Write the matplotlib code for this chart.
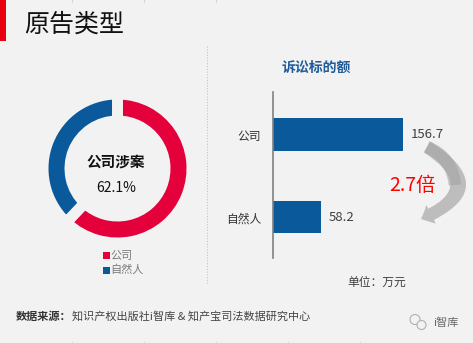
import matplotlib
matplotlib.use("Agg")
import matplotlib.pyplot as plt
from matplotlib.patches import Rectangle, FancyArrowPatch, Circle

plt.rcParams['font.family'] = ['Noto Sans CJK SC', 'DejaVu Sans']

W, H = 473, 343
BG = '#f2f2f2'
RED = '#e4003a'
BLUE = '#0a5a9b'

# ---- data ----
title = '原告类型'
share_labels = ['公司', '自然人']
share_values = [62.1, 37.9]
share_colors = [RED, BLUE]
donut_center_label = '公司涉案'
donut_center_value = '62.1%'
bar_title = '诉讼标的额'
bar_categories = ['自然人', '公司']
bar_values = [58.2, 156.7]
ratio_label = '2.7倍'
unit_label = '单位：万元'
source_head = '数据来源：'
source_body = '知识产权出版社i智库 & 知产宝司法数据研究中心'
brand = 'i智库'

fig = plt.figure(figsize=(W / 100, H / 100), dpi=100, facecolor=BG)


def px_axes(x, y, w, h, z=1):
    a = fig.add_axes([x / W, 1 - (y + h) / H, w / W, h / H], zorder=z)
    a.patch.set_alpha(0)
    return a


# overlay in pixel coords (top-left origin)
over = px_axes(0, 0, W, H, z=0)
over.set_xlim(0, W)
over.set_ylim(H, 0)
over.axis('off')

# header
over.add_patch(Rectangle((0, 0), 6, 40.7, color='#e8000f', lw=0))
over.text(24, 24.5, title, fontsize=18, va='center', ha='left', color='#111111')

# screenshot edge marks
for xm in [72, 144, 216]:
    over.plot([xm, xm], [0, 1.5], color='#d5d5d5', lw=0.8)
for xm in [72, 144, 216, 288, 360]:
    over.plot([xm, xm], [341.5, 343], color='#d5d5d5', lw=0.8)

# separator
over.plot([206.5, 206.5], [46, 283], color='#c4c4c4', lw=0.8, ls=(0, (1, 1.5)))

# ---- donut ----
axp = px_axes(117.5 - 85, 168.5 - 85, 170, 170, z=2)
axp.set_xlim(-85, 85)
axp.set_ylim(-85, 85)
axp.set_aspect('equal')
axp.axis('off')
axp.pie(share_values, colors=share_colors, startangle=90, counterclock=False,
        radius=74.5, wedgeprops=dict(width=27, edgecolor=BG, linewidth=7.9))
axp.set_xlim(-85, 85)
axp.set_ylim(-85, 85)
axp.text(-1.5, 6.5, donut_center_label, fontsize=10.5, fontweight='bold',
         ha='center', va='center', color='#111111')
axp.text(-1.5, -19, donut_center_value, fontsize=10, ha='center', va='center',
         color='#111111')

# legend
for i, (lab, col) in enumerate(zip(share_labels, share_colors)):
    yy = 255.5 + i * 14.5
    over.add_patch(Rectangle((102.7, yy - 3.5), 7, 7, color=col, lw=0))
    over.text(110.5, yy, lab, fontsize=8, color='#7a7a7a', va='center', ha='left')

# ---- bars ----
axb = px_axes(273.3, 91.7, 460 - 273.3, 166.6, z=2)
axb.set_xlim(0, (460 - 273.3) / 0.828)
axb.set_ylim(-0.495, 1.517)
ypos = list(range(len(bar_categories)))
axb.barh(ypos, bar_values, height=0.39, color=BLUE)
for s in ['top', 'right', 'bottom']:
    axb.spines[s].set_visible(False)
axb.spines['left'].set_color('#808080')
axb.spines['left'].set_linewidth(1.2)
axb.set_xticks([])
axb.set_yticks(ypos)
axb.set_yticklabels(bar_categories, fontsize=8.5, color='#333333')
axb.tick_params(axis='y', length=0, pad=8.6)
for yv, v in zip(ypos, bar_values):
    axb.annotate(f'{v}', xy=(v, yv), xytext=(5.5, 0), textcoords='offset points',
                 va='center', ha='left', fontsize=9.5, color='#404040')

over.text(316.7, 68.3, bar_title, fontsize=10, fontweight='bold', color='#1f5c9c',
          ha='center', va='center')

# arrow (two layers to mimic the grey gradient)
arr = FancyArrowPatch((427, 147), (421, 219), connectionstyle='arc3,rad=-0.95',
                      arrowstyle='simple,tail_width=9,head_width=15,head_length=8',
                      mutation_scale=1, color='#bdbdbd', lw=0, shrinkA=0, shrinkB=0)
over.add_patch(arr)
arr2 = FancyArrowPatch((427, 147), (455, 185), connectionstyle='arc3,rad=-0.3',
                       arrowstyle='simple,tail_width=9,head_width=9,head_length=0.01',
                       mutation_scale=1, color='#a3a3a3', lw=0, shrinkA=0, shrinkB=0,
                       alpha=0.6)
over.add_patch(arr2)
over.text(412, 185, ratio_label, fontsize=14, color='#ff0000', ha='center', va='center')

over.text(376.7, 282.7, unit_label, fontsize=8.5, color='#404040', ha='center', va='center')

# footer
t1 = over.text(16, 316.5, source_head, fontsize=8, fontweight='bold', color='#333333',
               va='center', ha='left')
over.annotate(source_body, xy=(1, 0.5), xycoords=t1, va='center', ha='left',
              fontsize=8, color='#444444')

# brand watermark
over.add_patch(Circle((415, 319.5), 5, fill=False, ec='#b0b0b0', lw=0.8))
over.add_patch(Circle((421.5, 325), 4.5, fc=BG, ec='#b0b0b0', lw=0.8))
over.text(433, 323, brand, fontsize=8, color='#666666', va='center', ha='left')

fig.savefig('out.png', dpi=100, facecolor=BG)
